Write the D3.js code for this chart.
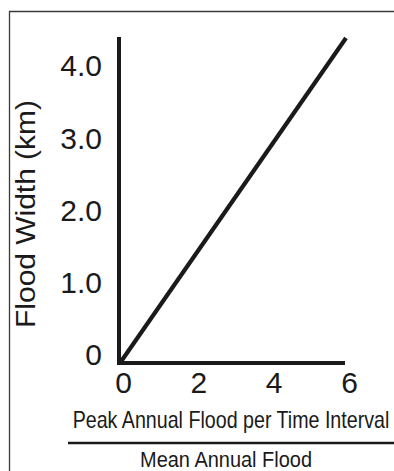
<!DOCTYPE html>
<html>
<head>
<meta charset="utf-8">
<script src="https://cdn.jsdelivr.net/npm/d3@7"></script>
<style>
  html, body { margin: 0; padding: 0; background: #fff; }
  svg { display: block; }
  text { font-family: "Liberation Sans", Arial, Helvetica, sans-serif; fill: #1a1a1a; }
</style>
</head>
<body>
<svg id="chart" width="394" height="471"></svg>
<script>
// ---- data ----
const xTicks = [0, 2, 4, 6];
const yTicks = [0, 1, 2, 3, 4];
const yTickLabels = ["0", "1.0", "2.0", "3.0", "4.0"];
const lineX = [0, 6];
const lineY = [0, 4.5];
const yTitle = "Flood Width (km)";
const xTitleTop = "Peak Annual Flood per Time Interval";
const xTitleBottom = "Mean Annual Flood";

const svg = d3.select("#chart");
const ink = "#1a1a1a";
const font = '"Liberation Sans", Arial, Helvetica, sans-serif';

// frame (top and left edges)
svg.append("path")
  .attr("d", "M9.5,471 V11.5 H394")
  .attr("fill", "none").attr("stroke", "#3a3a3a").attr("stroke-width", 1.3);

const x = d3.scaleLinear().domain([0, 6]).range([120, 346]);
const y = d3.scaleLinear().domain([0, 4.5]).range([363, 38]);

// axes lines
svg.append("line")
  .attr("x1", x(0) - 1).attr("x2", x(0) - 1)
  .attr("y1", y(4.5) - 1).attr("y2", y(0) + 2)
  .attr("stroke", ink).attr("stroke-width", 4);
svg.append("line")
  .attr("x1", x(0) - 3).attr("x2", x(6) - 1)
  .attr("y1", y(0)).attr("y2", y(0))
  .attr("stroke", ink).attr("stroke-width", 4);

// y tick labels
const yAxis = d3.axisLeft(y).tickValues(yTicks).tickSize(0).tickPadding(0)
  .tickFormat((d, i) => yTickLabels[i]);
const gy = svg.append("g").attr("transform", "translate(102,-9)").call(yAxis);
gy.select(".domain").remove();
gy.selectAll("text")
  .attr("font-size", 30).attr("fill", ink).attr("dy", "0.36em")
  .style("font-family", font);

// x tick labels
const xAxis = d3.axisBottom(x).tickValues(xTicks).tickSize(0).tickPadding(0)
  .tickFormat(d3.format("d"));
const gx = svg.append("g").attr("transform", "translate(3,371)").call(xAxis);
gx.select(".domain").remove();
gx.selectAll("text")
  .attr("font-size", 30).attr("fill", ink).attr("dy", "0.72em")
  .style("font-family", font);

// data line
svg.append("path")
  .datum(lineX.map((d, i) => [d, lineY[i]]))
  .attr("d", d3.line().x(d => x(d[0])).y(d => y(d[1])))
  .attr("fill", "none").attr("stroke", ink).attr("stroke-width", 4.2);

// helper: text horizontally scaled to a target width
function fitText(txt, cx, cy, size, width, rotate) {
  const t = svg.append("text")
    .attr("text-anchor", "middle")
    .attr("font-size", size)
    .text(txt);
  const w = t.node().getComputedTextLength();
  const s = width / w;
  t.attr("transform", `translate(${cx},${cy})` + (rotate ? ` rotate(${rotate})` : "") + ` scale(${s},1)`);
  return t;
}

// y title
fitText(yTitle, 35, 214, 28, 228, -90);

// x title (fraction)
fitText(xTitleTop, 231, 428, 23, 317, 0);
svg.append("line")
  .attr("x1", 68).attr("x2", 394).attr("y1", 443).attr("y2", 443)
  .attr("stroke", ink).attr("stroke-width", 2.6);
fitText(xTitleBottom, 226, 467, 22, 172, 0);
</script>
</body>
</html>
